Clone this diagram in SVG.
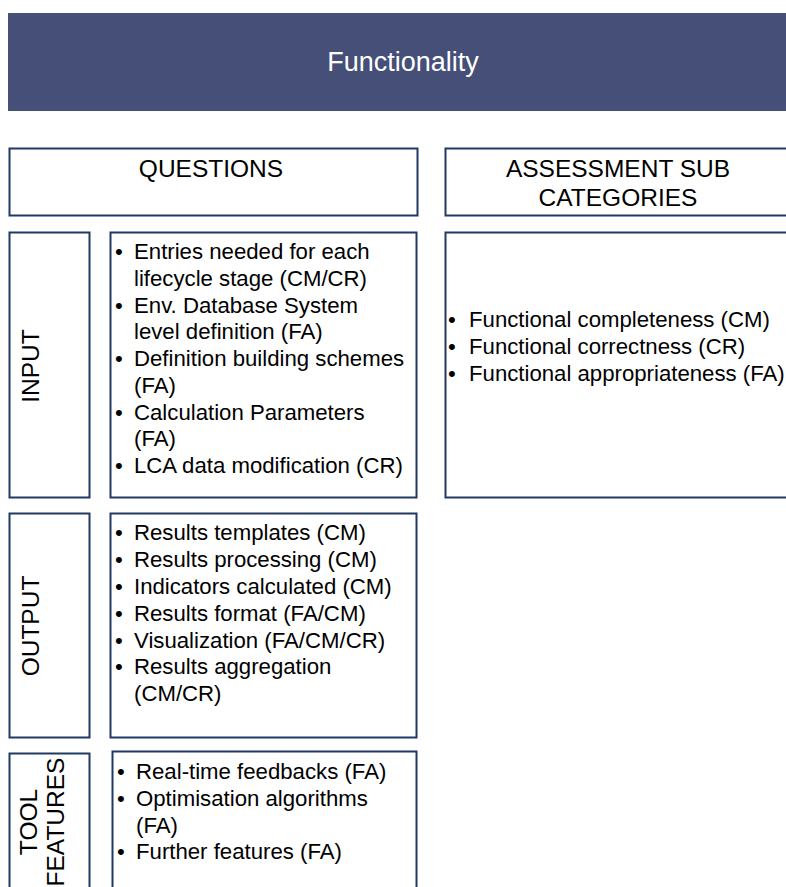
<svg xmlns="http://www.w3.org/2000/svg" width="786" height="887" viewBox="0 0 786 887">
  <style>
    .box { fill: #ffffff; stroke: #1f3864; stroke-width: 2; }
    .t { font-family: "Liberation Sans", Arial, sans-serif; fill: #000000; }
    .head { font-size: 24.5px; text-anchor: middle; }
    .side { font-size: 24.5px; text-anchor: middle; }
    .item { font-size: 22.2px; }
  </style>

  <!-- title bar -->
  <g id="title">
    <rect x="8" y="13" width="790" height="98" fill="#454f78"/>
    <text class="t" x="403" y="71" font-size="27" text-anchor="middle" style="fill:#ffffff">Functionality</text>
  </g>

  <!-- column headers -->
  <g id="questions-header">
    <rect class="box" x="9.5" y="148.5" width="408" height="67"/>
    <text class="t head" x="211" y="177">QUESTIONS</text>
  </g>
  <g id="subcategories-header">
    <rect class="box" x="445.5" y="148.5" width="350" height="67"/>
    <text class="t head" x="618" y="177">ASSESSMENT SUB</text>
    <text class="t head" x="618" y="206">CATEGORIES</text>
  </g>

  <!-- INPUT row -->
  <g id="input-label">
    <rect class="box" x="9.5" y="232.5" width="80" height="265"/>
    <text class="t side" transform="translate(39,366) rotate(-90)">INPUT</text>
  </g>
  <g id="input-questions">
    <rect class="box" x="110.5" y="232.5" width="306" height="265"/>
    <g class="t item">
      <text x="115" y="259">•</text><text x="134" y="259">Entries needed for each</text>
      <text x="134" y="286">lifecycle stage (CM/CR)</text>
      <text x="115" y="313">•</text><text x="134" y="313">Env. Database System</text>
      <text x="134" y="339">level definition (FA)</text>
      <text x="115" y="366">•</text><text x="134" y="366">Definition building schemes</text>
      <text x="134" y="393">(FA)</text>
      <text x="115" y="420">•</text><text x="134" y="420">Calculation Parameters</text>
      <text x="134" y="446">(FA)</text>
      <text x="115" y="473">•</text><text x="134" y="473">LCA data modification (CR)</text>
    </g>
  </g>
  <g id="subcategories">
    <rect class="box" x="445.5" y="232.5" width="350" height="265"/>
    <g class="t item">
      <text x="448" y="327">•</text><text x="469" y="327">Functional completeness (CM)</text>
      <text x="448" y="354">•</text><text x="469" y="354">Functional correctness (CR)</text>
      <text x="448" y="381">•</text><text x="469" y="381">Functional appropriateness (FA)</text>
    </g>
  </g>

  <!-- OUTPUT row -->
  <g id="output-label">
    <rect class="box" x="9.5" y="513.5" width="80" height="224"/>
    <text class="t side" transform="translate(39,626) rotate(-90)">OUTPUT</text>
  </g>
  <g id="output-questions">
    <rect class="box" x="110.5" y="513.5" width="306" height="224"/>
    <g class="t item">
      <text x="115" y="540">•</text><text x="134" y="540">Results templates (CM)</text>
      <text x="115" y="567">•</text><text x="134" y="567">Results processing (CM)</text>
      <text x="115" y="594">•</text><text x="134" y="594">Indicators calculated (CM)</text>
      <text x="115" y="621">•</text><text x="134" y="621">Results format (FA/CM)</text>
      <text x="115" y="648">•</text><text x="134" y="648">Visualization (FA/CM/CR)</text>
      <text x="115" y="674">•</text><text x="134" y="674">Results aggregation</text>
      <text x="134" y="701">(CM/CR)</text>
    </g>
  </g>

  <!-- TOOL FEATURES row -->
  <g id="tool-label">
    <rect class="box" x="9.5" y="753.5" width="80" height="150"/>
    <text class="t side" transform="translate(37,822) rotate(-90)">TOOL</text>
    <text class="t side" transform="translate(64,822) rotate(-90)">FEATURES</text>
  </g>
  <g id="tool-questions">
    <rect class="box" x="112.5" y="751.5" width="304" height="150"/>
    <g class="t item">
      <text x="117" y="779">•</text><text x="136" y="779">Real-time feedbacks (FA)</text>
      <text x="117" y="806">•</text><text x="136" y="806">Optimisation algorithms</text>
      <text x="136" y="833">(FA)</text>
      <text x="117" y="859">•</text><text x="136" y="859">Further features (FA)</text>
    </g>
  </g>

  <!-- the layout has no connectors -->
  <g id="connectors"/>
</svg>
